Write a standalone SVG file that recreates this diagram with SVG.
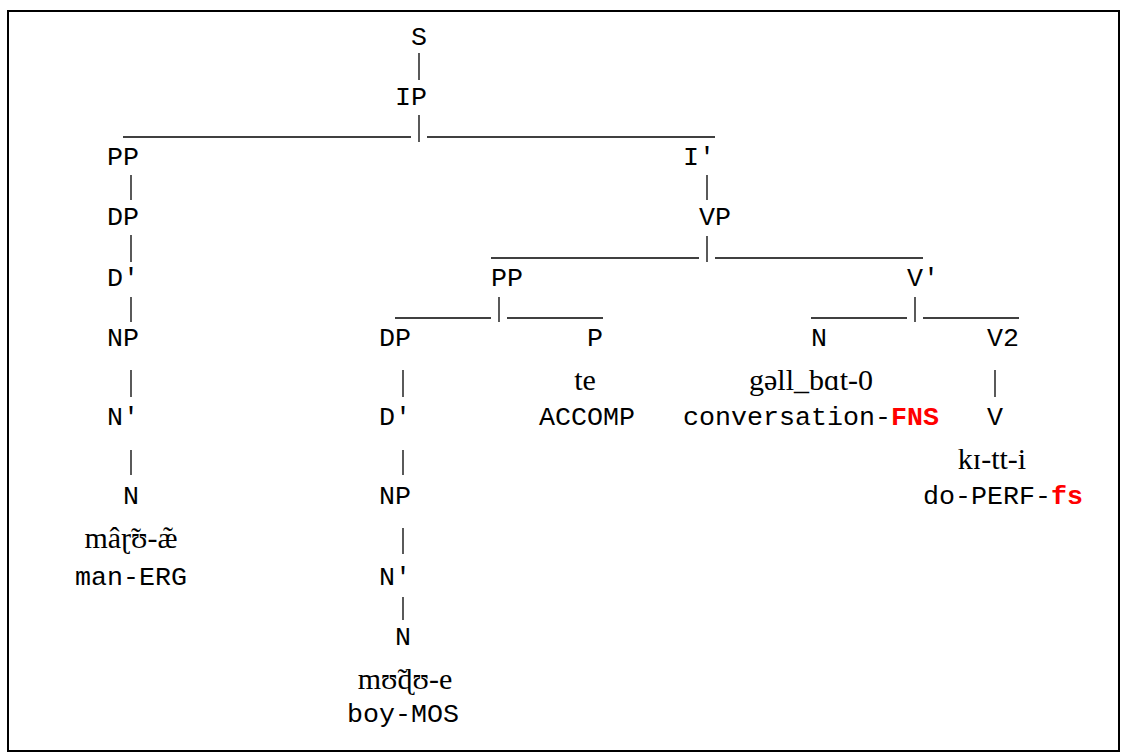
<svg xmlns="http://www.w3.org/2000/svg" width="1121" height="753" viewBox="0 0 1121 753">
  <style>
    .lbl { font-family: "Liberation Mono", "DejaVu Sans Mono", monospace; font-size: 26.67px; fill: #000; }
    .red { fill: #ff0000; font-weight: bold; }
    .word { font-family: "Liberation Serif", "DejaVu Serif", serif; font-size: 30px; fill: #000; text-anchor: middle; }
    .edge { stroke: #000; stroke-width: 1.3; fill: none; }
  </style>
  <rect x="0" y="0" width="1121" height="753" fill="#fff"/>
  <rect x="8" y="11" width="1111" height="740" fill="none" stroke="#000" stroke-width="2"/>

  <!-- tree branches: vertical bars and horizontal rules -->
  <g id="connectors" class="edge">
    <!-- S - IP -->
    <line x1="419" y1="53" x2="419" y2="80"/>
    <!-- IP split -->
    <line x1="123" y1="137" x2="411" y2="137"/>
    <line x1="419" y1="115" x2="419" y2="142"/>
    <line x1="427" y1="137" x2="715" y2="137"/>
    <!-- left spine -->
    <line x1="131" y1="175" x2="131" y2="200"/>
    <line x1="131" y1="235" x2="131" y2="262"/>
    <line x1="131" y1="297" x2="131" y2="322"/>
    <line x1="131" y1="370" x2="131" y2="397"/>
    <line x1="131" y1="450" x2="131" y2="475"/>
    <!-- I' - VP -->
    <line x1="707" y1="175" x2="707" y2="200"/>
    <!-- VP split -->
    <line x1="491" y1="258" x2="699" y2="258"/>
    <line x1="707" y1="236" x2="707" y2="262"/>
    <line x1="715" y1="258" x2="923" y2="258"/>
    <!-- PP split -->
    <line x1="395" y1="318" x2="491" y2="318"/>
    <line x1="499" y1="297" x2="499" y2="322"/>
    <line x1="507" y1="318" x2="603" y2="318"/>
    <!-- V' split -->
    <line x1="811" y1="318" x2="907" y2="318"/>
    <line x1="915" y1="297" x2="915" y2="322"/>
    <line x1="923" y1="318" x2="1019" y2="318"/>
    <!-- middle spine -->
    <line x1="403" y1="370" x2="403" y2="397"/>
    <line x1="403" y1="450" x2="403" y2="475"/>
    <line x1="403" y1="528" x2="403" y2="554"/>
    <line x1="403" y1="597" x2="403" y2="620"/>
    <!-- V2 - V -->
    <line x1="995" y1="370" x2="995" y2="397"/>
  </g>

  <g id="node-S"><text class="lbl" x="411" y="45">S</text></g>
  <g id="node-IP"><text class="lbl" x="395" y="105">IP</text></g>

  <g id="node-PP1"><text class="lbl" x="107" y="165">PP</text></g>
  <g id="node-DP1"><text class="lbl" x="107" y="225">DP</text></g>
  <g id="node-Dbar1"><text class="lbl" x="107" y="286">D'</text></g>
  <g id="node-NP1"><text class="lbl" x="107" y="346">NP</text></g>
  <g id="node-Nbar1"><text class="lbl" x="107" y="425">N'</text></g>
  <g id="node-N1"><text class="lbl" x="123" y="504">N</text></g>
  <g id="word-man">
    <text class="word" x="131" y="548">mâɽ̃ʊ-æ̃</text>
    <text class="lbl" x="75" y="585">man-ERG</text>
  </g>

  <g id="node-Ibar"><text class="lbl" x="683" y="165">I'</text></g>
  <g id="node-VP"><text class="lbl" x="699" y="225">VP</text></g>

  <g id="node-PP2"><text class="lbl" x="491" y="286">PP</text></g>
  <g id="node-DP2"><text class="lbl" x="379" y="346">DP</text></g>
  <g id="node-Dbar2"><text class="lbl" x="379" y="425">D'</text></g>
  <g id="node-NP2"><text class="lbl" x="379" y="504">NP</text></g>
  <g id="node-Nbar2"><text class="lbl" x="379" y="585">N'</text></g>
  <g id="node-N2"><text class="lbl" x="395" y="645">N</text></g>
  <g id="word-boy">
    <text class="word" x="405" y="689">mʊ̃ɖʊ-e</text>
    <text class="lbl" x="347" y="722">boy-MOS</text>
  </g>

  <g id="node-P"><text class="lbl" x="587" y="346">P</text></g>
  <g id="word-te">
    <text class="word" x="585" y="390">te</text>
    <text class="lbl" x="539" y="425">ACCOMP</text>
  </g>

  <g id="node-Vbar"><text class="lbl" x="907" y="286">V'</text></g>
  <g id="node-N3"><text class="lbl" x="811" y="346">N</text></g>
  <g id="word-conversation">
    <text class="word" x="811" y="390">gəll_bɑt-0</text>
    <text class="lbl" x="683" y="425">conversation-<tspan class="red">FNS</tspan></text>
  </g>

  <g id="node-V2"><text class="lbl" x="987" y="346">V2</text></g>
  <g id="node-V"><text class="lbl" x="987" y="425">V</text></g>
  <g id="word-do">
    <text class="word" x="992" y="469">kɪ-tt-i</text>
    <text class="lbl" x="923" y="504">do-PERF-<tspan class="red">fs</tspan></text>
  </g>
</svg>
